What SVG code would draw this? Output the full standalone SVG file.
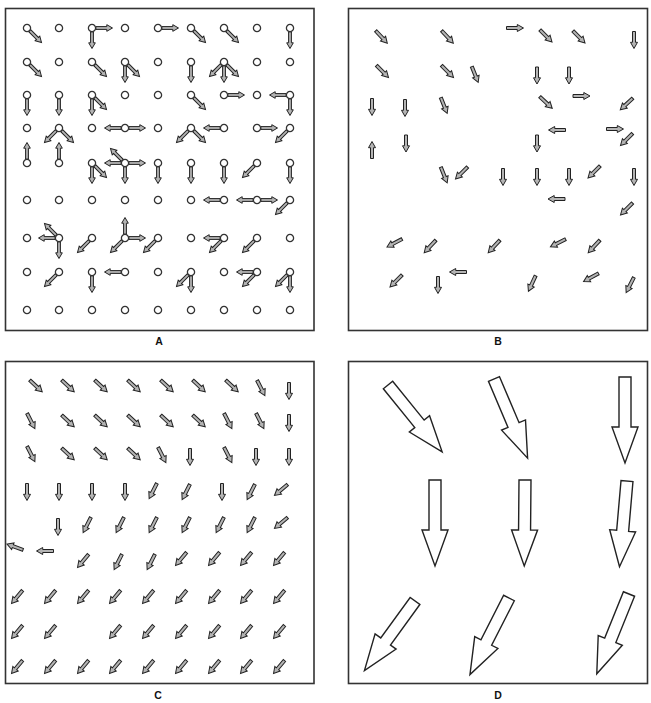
<svg xmlns="http://www.w3.org/2000/svg" xmlns:xlink="http://www.w3.org/1999/xlink" width="651" height="703" viewBox="0 0 651 703">
<style>
.frame{fill:#fff;stroke:#333;stroke-width:1.6}
.n{fill:#fff;stroke:#333;stroke-width:1.3}
.ar{fill:#b4b4b4;stroke:#222;stroke-width:1;stroke-linejoin:miter}
.big{fill:#fff;stroke:#222;stroke-width:1.4;stroke-linejoin:miter}
.lbl{font-family:"Liberation Sans",Arial,sans-serif;font-weight:bold;font-size:10.5px;fill:#111;text-anchor:middle}
</style>
<defs>
<path id="a" class="ar" d="M3.8,-1.4 H14.8 V-3.3 L20.5,0 L14.8,3.3 V1.4 H3.8 Z"/>
<path id="b" class="ar" d="M-8.5,-1.5 H2.3 V-3.5 L8.5,0 L2.3,3.5 V1.5 H-8.5 Z"/>
<path id="d" class="big" d="M0,-6 H50 V-13 L86,0 L50,13 V6 H0 Z"/>
<circle id="c" class="n" r="3.6"/>
</defs>
<rect width="651" height="703" fill="#fff"/>

<g id="panelA">
<rect class="frame" x="5.5" y="8.5" width="308.5" height="322"/>
<g id="A-connectors">
<use href="#a" transform="translate(27,28) rotate(45)"/>
<use href="#a" transform="translate(92,28) rotate(0)"/>
<use href="#a" transform="translate(92,28) rotate(90)"/>
<use href="#a" transform="translate(158,28) rotate(0)"/>
<use href="#a" transform="translate(191,28) rotate(45)"/>
<use href="#a" transform="translate(224,28) rotate(45)"/>
<use href="#a" transform="translate(290,28) rotate(90)"/>

<use href="#a" transform="translate(27,62) rotate(45)"/>
<use href="#a" transform="translate(92,62) rotate(45)"/>
<use href="#a" transform="translate(125,62) rotate(90)"/>
<use href="#a" transform="translate(125,62) rotate(45)"/>
<use href="#a" transform="translate(191,62) rotate(90)"/>
<use href="#a" transform="translate(224,62) rotate(135)"/>
<use href="#a" transform="translate(224,62) rotate(90)"/>
<use href="#a" transform="translate(224,62) rotate(45)"/>

<use href="#a" transform="translate(27,95) rotate(90)"/>
<use href="#a" transform="translate(59,95) rotate(90)"/>
<use href="#a" transform="translate(92,95) rotate(90)"/>
<use href="#a" transform="translate(92,95) rotate(45)"/>
<use href="#a" transform="translate(191,95) rotate(45)"/>
<use href="#a" transform="translate(224,95) rotate(0)"/>
<use href="#a" transform="translate(290,95) rotate(180)"/>
<use href="#a" transform="translate(290,95) rotate(90)"/>

<use href="#a" transform="translate(59,128) rotate(135)"/>
<use href="#a" transform="translate(59,128) rotate(45)"/>
<use href="#a" transform="translate(125,128) rotate(180)"/>
<use href="#a" transform="translate(125,128) rotate(0)"/>
<use href="#a" transform="translate(191,128) rotate(135)"/>
<use href="#a" transform="translate(191,128) rotate(45)"/>
<use href="#a" transform="translate(224,128) rotate(180)"/>
<use href="#a" transform="translate(257,128) rotate(0)"/>
<use href="#a" transform="translate(290,128) rotate(135)"/>

<use href="#a" transform="translate(27,163) rotate(270)"/>
<use href="#a" transform="translate(59,163) rotate(270)"/>
<use href="#a" transform="translate(92,163) rotate(90)"/>
<use href="#a" transform="translate(92,163) rotate(45)"/>
<use href="#a" transform="translate(125,163) rotate(225)"/>
<use href="#a" transform="translate(125,163) rotate(180)"/>
<use href="#a" transform="translate(125,163) rotate(0)"/>
<use href="#a" transform="translate(125,163) rotate(90)"/>
<use href="#a" transform="translate(158,163) rotate(90)"/>
<use href="#a" transform="translate(191,163) rotate(90)"/>
<use href="#a" transform="translate(224,163) rotate(90)"/>
<use href="#a" transform="translate(257,163) rotate(135)"/>
<use href="#a" transform="translate(290,163) rotate(90)"/>

<use href="#a" transform="translate(224,200) rotate(180)"/>
<use href="#a" transform="translate(257,200) rotate(180)"/>
<use href="#a" transform="translate(257,200) rotate(0)"/>
<use href="#a" transform="translate(290,200) rotate(135)"/>

<use href="#a" transform="translate(59,238) rotate(180)"/>
<use href="#a" transform="translate(59,238) rotate(225)"/>
<use href="#a" transform="translate(59,238) rotate(90)"/>
<use href="#a" transform="translate(92,238) rotate(135)"/>
<use href="#a" transform="translate(125,238) rotate(270)"/>
<use href="#a" transform="translate(125,238) rotate(0)"/>
<use href="#a" transform="translate(125,238) rotate(135)"/>
<use href="#a" transform="translate(158,238) rotate(135)"/>
<use href="#a" transform="translate(224,238) rotate(180)"/>
<use href="#a" transform="translate(224,238) rotate(135)"/>
<use href="#a" transform="translate(257,238) rotate(135)"/>

<use href="#a" transform="translate(59,272) rotate(135)"/>
<use href="#a" transform="translate(92,272) rotate(90)"/>
<use href="#a" transform="translate(125,272) rotate(180)"/>
<use href="#a" transform="translate(191,272) rotate(135)"/>
<use href="#a" transform="translate(191,272) rotate(90)"/>
<use href="#a" transform="translate(257,272) rotate(180)"/>
<use href="#a" transform="translate(257,272) rotate(135)"/>
<use href="#a" transform="translate(290,272) rotate(135)"/>
<use href="#a" transform="translate(290,272) rotate(90)"/>
</g>
<g id="A-nodes">
<use href="#c" x="27" y="28"/><use href="#c" x="59" y="28"/><use href="#c" x="92" y="28"/><use href="#c" x="125" y="28"/><use href="#c" x="158" y="28"/><use href="#c" x="191" y="28"/><use href="#c" x="224" y="28"/><use href="#c" x="257" y="28"/><use href="#c" x="290" y="28"/>
<use href="#c" x="27" y="62"/><use href="#c" x="59" y="62"/><use href="#c" x="92" y="62"/><use href="#c" x="125" y="62"/><use href="#c" x="158" y="62"/><use href="#c" x="191" y="62"/><use href="#c" x="224" y="62"/><use href="#c" x="257" y="62"/><use href="#c" x="290" y="62"/>
<use href="#c" x="27" y="95"/><use href="#c" x="59" y="95"/><use href="#c" x="92" y="95"/><use href="#c" x="125" y="95"/><use href="#c" x="158" y="95"/><use href="#c" x="191" y="95"/><use href="#c" x="224" y="95"/><use href="#c" x="257" y="95"/><use href="#c" x="290" y="95"/>
<use href="#c" x="27" y="128"/><use href="#c" x="59" y="128"/><use href="#c" x="92" y="128"/><use href="#c" x="125" y="128"/><use href="#c" x="158" y="128"/><use href="#c" x="191" y="128"/><use href="#c" x="224" y="128"/><use href="#c" x="257" y="128"/><use href="#c" x="290" y="128"/>
<use href="#c" x="27" y="163"/><use href="#c" x="59" y="163"/><use href="#c" x="92" y="163"/><use href="#c" x="125" y="163"/><use href="#c" x="158" y="163"/><use href="#c" x="191" y="163"/><use href="#c" x="224" y="163"/><use href="#c" x="257" y="163"/><use href="#c" x="290" y="163"/>
<use href="#c" x="27" y="200"/><use href="#c" x="59" y="200"/><use href="#c" x="92" y="200"/><use href="#c" x="125" y="200"/><use href="#c" x="158" y="200"/><use href="#c" x="191" y="200"/><use href="#c" x="224" y="200"/><use href="#c" x="257" y="200"/><use href="#c" x="290" y="200"/>
<use href="#c" x="27" y="238"/><use href="#c" x="59" y="238"/><use href="#c" x="92" y="238"/><use href="#c" x="125" y="238"/><use href="#c" x="158" y="238"/><use href="#c" x="191" y="238"/><use href="#c" x="224" y="238"/><use href="#c" x="257" y="238"/><use href="#c" x="290" y="238"/>
<use href="#c" x="27" y="272"/><use href="#c" x="59" y="272"/><use href="#c" x="92" y="272"/><use href="#c" x="125" y="272"/><use href="#c" x="158" y="272"/><use href="#c" x="191" y="272"/><use href="#c" x="224" y="272"/><use href="#c" x="257" y="272"/><use href="#c" x="290" y="272"/>
<use href="#c" x="27" y="310"/><use href="#c" x="59" y="310"/><use href="#c" x="92" y="310"/><use href="#c" x="125" y="310"/><use href="#c" x="158" y="310"/><use href="#c" x="191" y="310"/><use href="#c" x="224" y="310"/><use href="#c" x="257" y="310"/><use href="#c" x="290" y="310"/>
</g>
<text class="lbl" x="159" y="345">A</text>
</g>

<g id="panelB">
<rect class="frame" x="348.5" y="8.5" width="299" height="322"/>
<use href="#b" transform="translate(381.5,37) rotate(47)"/>
<use href="#b" transform="translate(447.5,37) rotate(47)"/>
<use href="#b" transform="translate(515,28) rotate(0)"/>
<use href="#b" transform="translate(546,36) rotate(45)"/>
<use href="#b" transform="translate(579,37) rotate(45)"/>
<use href="#b" transform="translate(634,40) rotate(90)"/>
<use href="#b" transform="translate(382.5,71.5) rotate(45)"/>
<use href="#b" transform="translate(447.5,71.5) rotate(45)"/>
<use href="#b" transform="translate(475,74.5) rotate(68)"/>
<use href="#b" transform="translate(537,75.5) rotate(90)"/>
<use href="#b" transform="translate(569,75.5) rotate(90)"/>
<use href="#b" transform="translate(372,107) rotate(90)"/>
<use href="#b" transform="translate(405,108) rotate(90)"/>
<use href="#b" transform="translate(444,105.5) rotate(68)"/>
<use href="#b" transform="translate(546,102.5) rotate(43)"/>
<use href="#b" transform="translate(581.5,96) rotate(0)"/>
<use href="#b" transform="translate(626.5,104) rotate(137)"/>
<use href="#b" transform="translate(557,130) rotate(180)"/>
<use href="#b" transform="translate(615,129) rotate(0)"/>
<use href="#b" transform="translate(626.5,139.5) rotate(135)"/>
<use href="#b" transform="translate(372,150) rotate(270)"/>
<use href="#b" transform="translate(406,143.5) rotate(90)"/>
<use href="#b" transform="translate(537,143.5) rotate(90)"/>
<use href="#b" transform="translate(444,175) rotate(68)"/>
<use href="#b" transform="translate(461.5,173) rotate(135)"/>
<use href="#b" transform="translate(503,177) rotate(90)"/>
<use href="#b" transform="translate(537,177) rotate(90)"/>
<use href="#b" transform="translate(569,177) rotate(90)"/>
<use href="#b" transform="translate(594,172) rotate(135)"/>
<use href="#b" transform="translate(634,177) rotate(90)"/>
<use href="#b" transform="translate(556.5,199) rotate(180)"/>
<use href="#b" transform="translate(626.5,209) rotate(135)"/>
<use href="#b" transform="translate(394.5,243) rotate(152)"/>
<use href="#b" transform="translate(430,246.5) rotate(133)"/>
<use href="#b" transform="translate(494,246.5) rotate(133)"/>
<use href="#b" transform="translate(558,243) rotate(153)"/>
<use href="#b" transform="translate(594,246.5) rotate(133)"/>
<use href="#b" transform="translate(458,272) rotate(180)"/>
<use href="#b" transform="translate(396,281) rotate(135)"/>
<use href="#b" transform="translate(438,285) rotate(90)"/>
<use href="#b" transform="translate(532,283.5) rotate(115)"/>
<use href="#b" transform="translate(591,277.5) rotate(151)"/>
<use href="#b" transform="translate(630,285) rotate(117)"/>
<text class="lbl" x="498" y="345">B</text>
</g>

<g id="panelC">
<rect class="frame" x="5.5" y="361.5" width="308.5" height="322"/>
<use href="#b" transform="translate(36,386) rotate(43)"/>
<use href="#b" transform="translate(68,386) rotate(43)"/>
<use href="#b" transform="translate(101,386) rotate(43)"/>
<use href="#b" transform="translate(134,386) rotate(43)"/>
<use href="#b" transform="translate(167,386) rotate(43)"/>
<use href="#b" transform="translate(199,386) rotate(43)"/>
<use href="#b" transform="translate(232,386) rotate(43)"/>
<use href="#b" transform="translate(261,388) rotate(63)"/>
<use href="#b" transform="translate(289,391) rotate(90)"/>

<use href="#b" transform="translate(31,421) rotate(63)"/>
<use href="#b" transform="translate(68,421) rotate(43)"/>
<use href="#b" transform="translate(101,421) rotate(43)"/>
<use href="#b" transform="translate(134,421) rotate(43)"/>
<use href="#b" transform="translate(167,421) rotate(43)"/>
<use href="#b" transform="translate(199,421) rotate(43)"/>
<use href="#b" transform="translate(228,421) rotate(63)"/>
<use href="#b" transform="translate(260,421) rotate(63)"/>
<use href="#b" transform="translate(289,423) rotate(90)"/>

<use href="#b" transform="translate(31,454) rotate(63)"/>
<use href="#b" transform="translate(68,454) rotate(43)"/>
<use href="#b" transform="translate(101,454) rotate(43)"/>
<use href="#b" transform="translate(134,454) rotate(43)"/>
<use href="#b" transform="translate(162,455) rotate(63)"/>
<use href="#b" transform="translate(190,457) rotate(90)"/>
<use href="#b" transform="translate(228,455) rotate(63)"/>
<use href="#b" transform="translate(256,457) rotate(90)"/>
<use href="#b" transform="translate(289,457) rotate(90)"/>

<use href="#b" transform="translate(27,492) rotate(90)"/>
<use href="#b" transform="translate(59,492) rotate(90)"/>
<use href="#b" transform="translate(92,492) rotate(90)"/>
<use href="#b" transform="translate(125,492) rotate(90)"/>
<use href="#b" transform="translate(153,491) rotate(117)"/>
<use href="#b" transform="translate(186,492) rotate(117)"/>
<use href="#b" transform="translate(222,492) rotate(90)"/>
<use href="#b" transform="translate(251,492) rotate(117)"/>
<use href="#b" transform="translate(281,490) rotate(140)"/>

<use href="#b" transform="translate(58,527) rotate(90)"/>
<use href="#b" transform="translate(87,525) rotate(117)"/>
<use href="#b" transform="translate(120,525) rotate(117)"/>
<use href="#b" transform="translate(153,525) rotate(117)"/>
<use href="#b" transform="translate(186,525) rotate(117)"/>
<use href="#b" transform="translate(220,525) rotate(117)"/>
<use href="#b" transform="translate(251,525) rotate(117)"/>
<use href="#b" transform="translate(281,523) rotate(140)"/>

<use href="#b" transform="translate(15,547) rotate(200)"/>
<use href="#b" transform="translate(45,551) rotate(180)"/>
<use href="#b" transform="translate(83,561) rotate(130)"/>
<use href="#b" transform="translate(118,562) rotate(117)"/>
<use href="#b" transform="translate(151,562) rotate(117)"/>
<use href="#b" transform="translate(181,559) rotate(130)"/>
<use href="#b" transform="translate(214,559) rotate(130)"/>
<use href="#b" transform="translate(246,559) rotate(130)"/>
<use href="#b" transform="translate(279,559) rotate(130)"/>

<use href="#b" transform="translate(17,597) rotate(130)"/>
<use href="#b" transform="translate(50,597) rotate(130)"/>
<use href="#b" transform="translate(83,597) rotate(130)"/>
<use href="#b" transform="translate(115,597) rotate(130)"/>
<use href="#b" transform="translate(148,597) rotate(130)"/>
<use href="#b" transform="translate(181,597) rotate(130)"/>
<use href="#b" transform="translate(214,597) rotate(130)"/>
<use href="#b" transform="translate(246,597) rotate(130)"/>
<use href="#b" transform="translate(279,597) rotate(130)"/>

<use href="#b" transform="translate(17,632) rotate(130)"/>
<use href="#b" transform="translate(50,632) rotate(130)"/>
<use href="#b" transform="translate(115,632) rotate(130)"/>
<use href="#b" transform="translate(148,632) rotate(130)"/>
<use href="#b" transform="translate(181,632) rotate(130)"/>
<use href="#b" transform="translate(214,632) rotate(130)"/>
<use href="#b" transform="translate(246,632) rotate(130)"/>
<use href="#b" transform="translate(279,632) rotate(130)"/>

<use href="#b" transform="translate(17,667) rotate(130)"/>
<use href="#b" transform="translate(50,667) rotate(130)"/>
<use href="#b" transform="translate(83,667) rotate(130)"/>
<use href="#b" transform="translate(115,667) rotate(130)"/>
<use href="#b" transform="translate(148,667) rotate(130)"/>
<use href="#b" transform="translate(181,667) rotate(130)"/>
<use href="#b" transform="translate(214,667) rotate(130)"/>
<use href="#b" transform="translate(246,667) rotate(130)"/>
<use href="#b" transform="translate(279,667) rotate(130)"/>
<text class="lbl" x="158" y="699">C</text>
</g>

<g id="panelD">
<rect class="frame" x="348.5" y="361.5" width="299" height="322"/>
<use href="#d" transform="translate(388,385) rotate(51)"/>
<use href="#d" transform="translate(494,379) rotate(67)"/>
<use href="#d" transform="translate(625,377) rotate(90)"/>
<use href="#d" transform="translate(435,480) rotate(90)"/>
<use href="#d" transform="translate(525,480) rotate(90.5)"/>
<use href="#d" transform="translate(627,481) rotate(95)"/>
<use href="#d" transform="translate(415,601) rotate(126)"/>
<use href="#d" transform="translate(509,598) rotate(117)"/>
<use href="#d" transform="translate(629,594) rotate(112)"/>
<text class="lbl" x="498" y="699">D</text>
</g>
</svg>
